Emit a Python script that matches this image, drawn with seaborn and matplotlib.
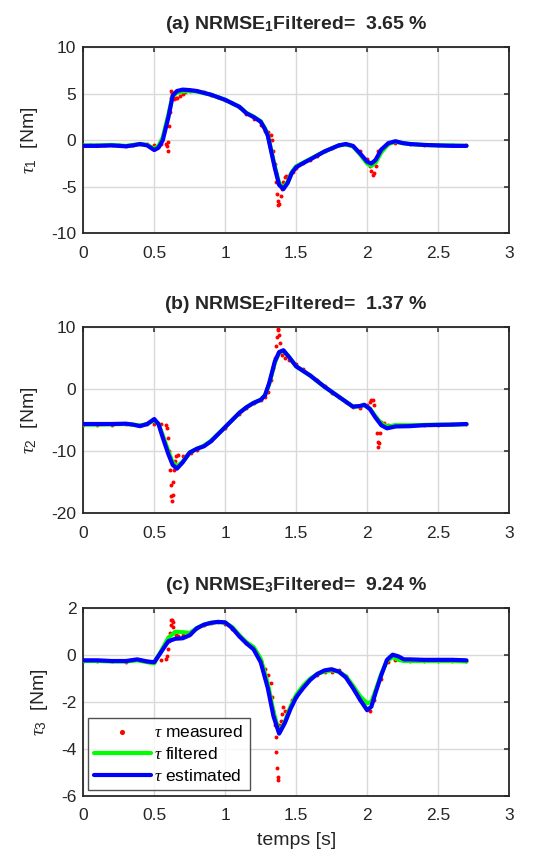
import matplotlib
matplotlib.use('Agg')
import matplotlib.pyplot as plt
import seaborn as sns
from matplotlib.ticker import FuncFormatter

# ---- données : tau 1 ----
t1 = [0, 0.1, 0.2, 0.3, 0.35, 0.4, 0.45, 0.5, 0.53, 0.56, 0.6, 0.63, 0.66, 0.7, 0.75, 0.8,
      0.9, 1.0, 1.1, 1.15, 1.2, 1.25, 1.28, 1.3, 1.35, 1.38, 1.41, 1.44, 1.47, 1.5, 1.55,
      1.6, 1.7, 1.8, 1.85, 1.9, 1.95, 2.0, 2.03, 2.06, 2.1, 2.15, 2.2, 2.25, 2.3, 2.4,
      2.5, 2.6, 2.7]
est1 = [-0.6, -0.6, -0.55, -0.65, -0.55, -0.4, -0.55, -1.05, -0.8, 0.0, 2.5, 4.8, 5.3, 5.45,
        5.4, 5.3, 4.9, 4.35, 3.6, 2.9, 2.5, 2.0, 1.2, 0.5, -3.0, -4.8, -5.25, -4.6, -3.5, -2.9,
        -2.45, -2.05, -1.2, -0.55, -0.4, -0.6, -1.4, -2.3, -2.5, -2.1, -1.0, -0.3, -0.1,
        -0.3, -0.4, -0.5, -0.55, -0.6, -0.6]
filt1 = [-0.55, -0.55, -0.5, -0.6, -0.5, -0.4, -0.5, -0.9, -0.6, 0.3, 2.8, 4.8, 5.1, 5.25,
         5.3, 5.25, 4.9, 4.35, 3.6, 2.95, 2.55, 2.05, 1.3, 0.6, -2.8, -4.6, -5.05, -4.5, -3.4,
         -2.8, -2.4, -2.0, -1.2, -0.55, -0.45, -0.65, -1.5, -2.5, -2.75, -2.4, -1.3, -0.4,
         -0.15, -0.3, -0.4, -0.5, -0.55, -0.55, -0.6]
tm1 = [0, 0.05, 0.1, 0.15, 0.2, 0.25, 0.3, 0.35, 0.4, 0.45, 0.5, 0.55, 0.58, 0.59, 0.595,
       0.6, 0.605, 0.61, 0.615, 0.62, 0.625, 0.63, 0.64, 0.65, 0.66, 0.68, 0.7, 0.72, 0.75,
       0.8, 0.85, 0.9, 0.95, 1.0, 1.05, 1.1, 1.15, 1.2, 1.25, 1.28, 1.3, 1.32, 1.33, 1.34,
       1.35, 1.355, 1.36, 1.365, 1.37, 1.375, 1.38, 1.39, 1.4, 1.41, 1.42, 1.43, 1.44, 1.45,
       1.46, 1.48, 1.5, 1.55, 1.6, 1.65, 1.7, 1.75, 1.8, 1.85, 1.9, 1.95, 2.0, 2.02, 2.03,
       2.04, 2.05, 2.06, 2.07, 2.08, 2.1, 2.15, 2.2, 2.3, 2.4, 2.5, 2.6, 2.7]
meas1 = [-0.5, -0.55, -0.55, -0.5, -0.5, -0.55, -0.6, -0.55, -0.45, -0.45, -0.5, -0.45, -0.4,
         -0.6, -1.1, -0.2, 1.5, 3.0, 4.5, 5.3, 5.1, 4.7, 4.4, 4.5, 4.6, 4.8, 5.0, 5.2, 5.3,
         5.3, 5.15, 4.9, 4.7, 4.35, 4.0, 3.55, 2.8, 2.3, 1.6, 1.0, 0.9, 0.6, 0.0, -1.2, -2.5,
         -3.5, -4.5, -5.8, -6.5, -7.0, -6.8, -6.0, -5.2, -4.5, -4.0, -3.8, -4.2, -4.0, -3.6,
         -3.4, -3.0, -2.4, -2.1, -1.7, -1.2, -0.8, -0.55, -0.45, -0.6, -1.1, -2.0, -2.8,
         -3.3, -3.7, -3.5, -2.8, -1.8, -1.2, -0.9, -0.4, -0.3, -0.4, -0.5, -0.5, -0.5, -0.5]

# ---- données : tau 2 ----
t2 = [0, 0.1, 0.2, 0.3, 0.35, 0.4, 0.45, 0.5, 0.53, 0.56, 0.6, 0.63, 0.66, 0.7, 0.75, 0.8,
      0.85, 0.9, 1.0, 1.1, 1.15, 1.2, 1.25, 1.28, 1.31, 1.35, 1.38, 1.41, 1.45, 1.5, 1.6,
      1.7, 1.8, 1.85, 1.9, 1.95, 1.98, 2.02, 2.06, 2.1, 2.14, 2.2, 2.3, 2.4, 2.5, 2.6, 2.7]
est2 = [-5.6, -5.6, -5.6, -5.55, -5.7, -5.95, -5.6, -4.8, -5.6, -7.8, -10.5, -12.2, -12.8,
        -11.8, -10.2, -9.6, -9.2, -8.4, -6.1, -3.8, -2.9, -2.2, -1.7, -1.0, 1.0, 4.5, 6.0,
        6.3, 5.2, 3.7, 2.2, 0.4, -1.2, -2.0, -2.8, -2.7, -2.5, -3.2, -4.6, -5.8, -6.3, -6.0,
        -5.95, -5.8, -5.75, -5.7, -5.6]
filt2 = [-5.7, -5.7, -5.65, -5.6, -5.7, -5.85, -5.6, -5.0, -5.6, -7.4, -10.0, -11.8, -12.4,
         -11.7, -10.2, -9.6, -9.1, -8.3, -6.1, -3.8, -2.9, -2.2, -1.7, -1.0, 0.8, 4.3, 5.9,
         6.2, 5.2, 3.7, 2.2, 0.4, -1.2, -2.0, -2.8, -2.75, -2.55, -3.1, -4.4, -5.5, -6.0,
         -5.8, -5.8, -5.75, -5.7, -5.7, -5.65]
tm2 = [0, 0.1, 0.2, 0.3, 0.4, 0.45, 0.5, 0.55, 0.58, 0.59, 0.597, 0.605, 0.61, 0.615, 0.62,
       0.625, 0.63, 0.635, 0.64, 0.645, 0.65, 0.67, 0.7, 0.73, 0.76, 0.8, 0.85, 0.9, 1.0,
       1.1, 1.15, 1.2, 1.25, 1.28, 1.3, 1.32, 1.34, 1.35, 1.36, 1.365, 1.37, 1.375, 1.38,
       1.385, 1.39, 1.4, 1.42, 1.45, 1.5, 1.55, 1.6, 1.65, 1.7, 1.75, 1.8, 1.85, 1.9, 1.95,
       2.0, 2.02, 2.03, 2.04, 2.05, 2.06, 2.07, 2.075, 2.08, 2.085, 2.09, 2.1, 2.12, 2.15,
       2.2, 2.3, 2.4, 2.5, 2.6, 2.7]
meas2 = [-5.7, -5.7, -5.7, -5.6, -5.8, -5.6, -5.6, -5.6, -5.7, -6.2, -7.8, -10.0, -13.0,
         -15.5, -17.2, -18.0, -17.0, -15.0, -13.0, -11.5, -10.8, -10.6, -10.8, -10.6, -10.2,
         -9.8, -9.0, -8.2, -6.2, -4.0, -3.0, -2.2, -1.7, -1.3, -0.5, 1.5, 3.5, 5.0, 7.0, 8.5,
         9.5, 9.8, 8.8, 7.5, 6.2, 5.5, 5.0, 4.8, 4.0, 3.2, 2.3, 1.5, 0.5, -0.6, -1.2, -2.0,
         -2.8, -3.0, -2.6, -2.0, -1.7, -1.8, -2.5, -4.5, -7.0, -8.5, -9.3, -8.6, -7.0, -5.3,
         -5.4, -5.8, -5.7, -5.7, -5.7, -5.7, -5.65, -5.65]

# ---- données : tau 3 ----
t3 = [0, 0.1, 0.2, 0.3, 0.38, 0.45, 0.5, 0.55, 0.6, 0.65, 0.7, 0.75, 0.8, 0.85, 0.9, 0.95,
      1.0, 1.05, 1.1, 1.15, 1.2, 1.25, 1.3, 1.34, 1.38, 1.42, 1.46, 1.5, 1.55, 1.6, 1.65,
      1.7, 1.75, 1.8, 1.85, 1.9, 1.95, 2.0, 2.03, 2.06, 2.1, 2.14, 2.18, 2.22, 2.26, 2.3,
      2.4, 2.5, 2.6, 2.7]
est3 = [-0.22, -0.22, -0.25, -0.25, -0.18, -0.27, -0.3, 0.15, 0.6, 0.7, 0.72, 0.85, 1.15,
        1.3, 1.38, 1.42, 1.4, 1.15, 0.8, 0.5, 0.25, -0.3, -1.4, -2.6, -3.35, -2.9, -2.3,
        -1.8, -1.4, -1.05, -0.8, -0.65, -0.6, -0.7, -0.95, -1.4, -1.9, -2.35, -2.2, -1.6,
        -0.85, -0.2, 0.02, -0.05, -0.18, -0.18, -0.2, -0.2, -0.2, -0.22]
filt3 = [-0.25, -0.25, -0.27, -0.27, -0.22, -0.3, -0.35, 0.2, 0.75, 1.0, 0.98, 0.95, 1.15,
         1.3, 1.38, 1.42, 1.38, 1.2, 0.85, 0.55, 0.35, -0.15, -1.2, -2.4, -3.3, -2.85, -2.2,
         -1.7, -1.3, -1.0, -0.8, -0.7, -0.65, -0.7, -0.9, -1.3, -1.75, -2.05, -2.0, -1.5,
         -0.8, -0.25, -0.08, -0.2, -0.25, -0.25, -0.25, -0.25, -0.25, -0.27]
tm3 = [0, 0.1, 0.2, 0.3, 0.4, 0.45, 0.5, 0.55, 0.58, 0.59, 0.6, 0.605, 0.61, 0.615, 0.62,
       0.625, 0.63, 0.635, 0.64, 0.65, 0.67, 0.7, 0.75, 0.8, 0.85, 0.9, 0.95, 1.0, 1.05, 1.1,
       1.15, 1.2, 1.25, 1.28, 1.3, 1.32, 1.33, 1.34, 1.35, 1.355, 1.36, 1.365, 1.37, 1.375,
       1.38, 1.39, 1.4, 1.41, 1.42, 1.43, 1.45, 1.47, 1.5, 1.55, 1.6, 1.65, 1.7, 1.75, 1.8,
       1.85, 1.9, 1.95, 2.0, 2.02, 2.05, 2.1, 2.15, 2.2, 2.3, 2.4, 2.5, 2.6, 2.7]
meas3 = [-0.25, -0.25, -0.27, -0.28, -0.22, -0.25, -0.25, -0.2, -0.18, -0.05, 0.25, 0.6,
         0.95, 1.3, 1.5, 1.5, 1.4, 1.2, 1.0, 0.85, 0.8, 0.85, 0.9, 1.15, 1.3, 1.38, 1.42,
         1.35, 1.1, 0.8, 0.5, 0.2, -0.25, -0.6, -0.85, -1.2, -1.8, -2.4, -3.0, -3.5, -4.15,
         -4.8, -5.2, -5.35, -3.0, -2.8, -2.5, -2.2, -2.4, -2.7, -2.3, -1.9, -1.8, -1.3, -1.0,
         -0.85, -0.7, -0.7, -0.65, -0.9, -1.35, -1.9, -2.3, -2.4, -1.9, -1.0, -0.3, -0.2,
         -0.25, -0.25, -0.25, -0.25, -0.27]

titles = ['(a) NRMSE$_\\mathbf{1}$Filtered=  3.65 %',
          '(b) NRMSE$_\\mathbf{2}$Filtered=  1.37 %',
          '(c) NRMSE$_\\mathbf{3}$Filtered=  9.24 %']
ylabels = ['$\\tau_1$  [Nm]', '$\\tau_2$  [Nm]', '$\\tau_3$  [Nm]']
yticks = [[-10, -5, 0, 5, 10], [-20, -10, 0, 10], [-6, -4, -2, 0, 2]]
xticks = [0, 0.5, 1, 1.5, 2, 2.5, 3]

sns.set_style('white')
plt.rcParams['font.family'] = ['Liberation Sans', 'DejaVu Sans']
plt.rcParams['mathtext.fontset'] = 'custom'
plt.rcParams['mathtext.rm'] = 'Liberation Sans'
plt.rcParams['mathtext.it'] = 'Liberation Serif:italic'
plt.rcParams['mathtext.bf'] = 'Liberation Sans:bold'
plt.rcParams['axes.unicode_minus'] = False

fig = plt.figure(figsize=(5.35, 8.57), dpi=100)
positions = [[0.1557, 0.7278, 0.7957, 0.2170],
             [0.1557, 0.4011, 0.7957, 0.2170],
             [0.1557, 0.0715, 0.7957, 0.2187]]

data = [(t1, est1, filt1, tm1, meas1), (t2, est2, filt2, tm2, meas2),
        (t3, est3, filt3, tm3, meas3)]
dark = '#262626'
fmt = FuncFormatter(lambda v, p: '%g' % v)

axs = []
for i, (t, est, filt, tm, meas) in enumerate(data):
    ax = fig.add_axes(positions[i])
    axs.append(ax)
    sns.scatterplot(x=tm, y=meas, ax=ax, color='red', s=8, linewidth=0,
                    label='$\\tau$ measured', legend=False, zorder=3)
    sns.lineplot(x=t, y=filt, ax=ax, color='#00ff00', lw=3, sort=False,
                 label='$\\tau$ filtered', legend=False, zorder=4)
    sns.lineplot(x=t, y=est, ax=ax, color='#0000ff', lw=3, sort=False,
                 label='$\\tau$ estimated', legend=False, zorder=5)
    ax.set_xlim(0, 3)
    ax.set_ylim(yticks[i][0], yticks[i][-1])
    ax.set_xticks(xticks)
    ax.set_yticks(yticks[i])
    ax.xaxis.set_major_formatter(fmt)
    ax.yaxis.set_major_formatter(fmt)
    ax.grid(True, color='#d9d9d9', lw=1)
    ax.set_axisbelow(True)
    for s in ax.spines.values():
        s.set_color(dark)
        s.set_linewidth(1.3)
    ax.tick_params(direction='in', length=3.5, width=1.1, color=dark, labelcolor=dark,
                   labelsize=12.5, top=True, right=True)
    ax.tick_params(axis='x', pad=9)
    ax.tick_params(axis='y', pad=5)
    ax.set_title(titles[i], fontsize=14, fontweight='bold', pad=13)
    ax.set_ylabel(ylabels[i], fontsize=14, color=dark, labelpad=8)
    ax.set_xlabel('')

axs[2].set_xlabel('temps [s]', fontsize=14, color=dark, labelpad=6)
leg = axs[2].legend(loc='lower left', bbox_to_anchor=(0.01, 0.03), borderaxespad=0,
                    fontsize=12.5, frameon=True, fancybox=False, edgecolor=dark,
                    handlelength=3.3, handletextpad=0.2, labelspacing=0.35,
                    borderpad=0.35, scatterpoints=1, markerscale=1.3)
leg.get_frame().set_linewidth(1.0)
for txt in leg.get_texts():
    txt.set_color('black')

fig.savefig('out.png', dpi=100)
